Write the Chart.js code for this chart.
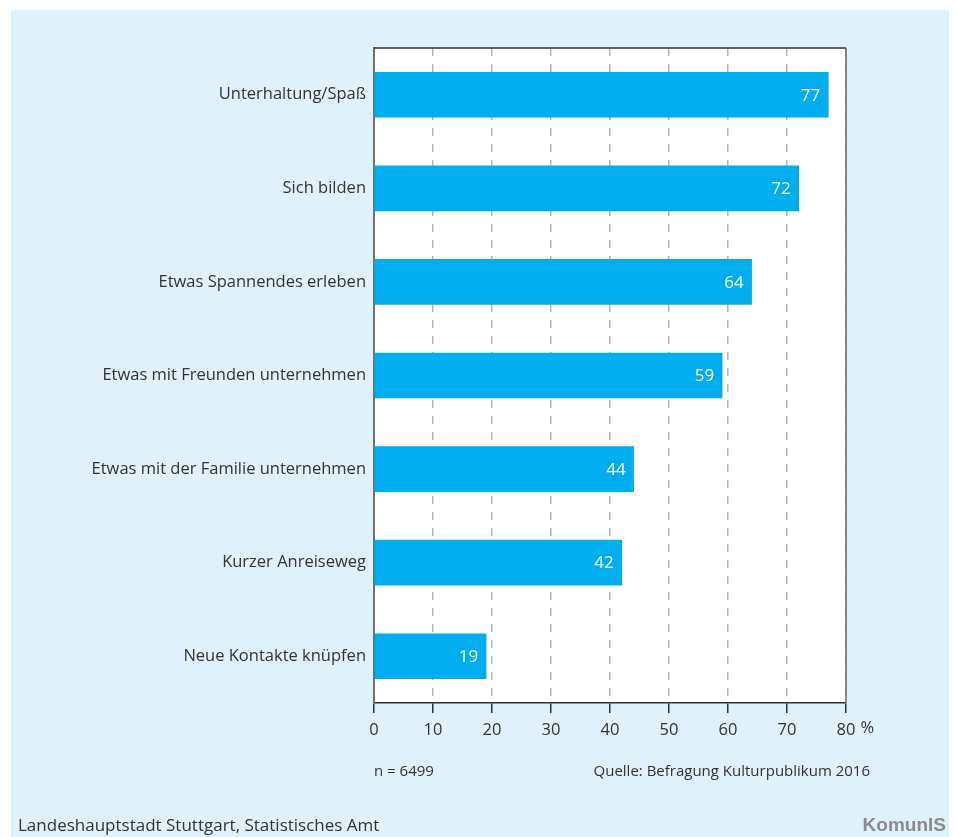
<!DOCTYPE html>
<html>
<head>
<meta charset="utf-8">
<script src="https://cdn.jsdelivr.net/npm/chart.js@4/dist/chart.umd.min.js"></script>
<style>
  html, body { margin: 0; padding: 0; background: #ffffff; }
  #wrap { width: 956px; height: 837px; position: relative; }
</style>
</head>
<body>
<div id="wrap"><canvas id="c" width="956" height="837"></canvas></div>
<script>
const categories = [
  "Unterhaltung/Spaß",
  "Sich bilden",
  "Etwas Spannendes erleben",
  "Etwas mit Freunden unternehmen",
  "Etwas mit der Familie unternehmen",
  "Kurzer Anreiseweg",
  "Neue Kontakte knüpfen"
];
const values = [77, 72, 64, 59, 44, 42, 19];
const xTicks = [0, 10, 20, 30, 40, 50, 60, 70, 80];
const unitLabel = "%";
const noteLeft = "n = 6499";
const noteRight = "Quelle: Befragung Kulturpublikum 2016";
const footerLeft = "Landeshauptstadt Stuttgart, Statistisches Amt";
const logoText = "KomunIS";

const FONT = "'Open Sans', 'Noto Sans', sans-serif";
const TEXT = "#333333";

const decor = {
  id: 'decor',
  beforeDraw(chart) {
    const ctx = chart.ctx;
    const a = chart.chartArea;
    ctx.save();
    ctx.fillStyle = '#dff1fb';
    ctx.fillRect(11, 10, 938, 827);
    ctx.fillStyle = '#ffffff';
    ctx.fillRect(a.left, a.top, a.right - a.left, a.bottom - a.top);
    ctx.restore();
  },
  afterDatasetsDraw(chart) {
    const ctx = chart.ctx;
    const a = chart.chartArea;
    const meta = chart.getDatasetMeta(0);
    ctx.save();
    ctx.fillStyle = '#ffffff';
    ctx.font = "17px " + FONT;
    ctx.textAlign = 'right';
    ctx.textBaseline = 'middle';
    meta.data.forEach((bar, i) => {
      ctx.fillText(String(chart.data.datasets[0].data[i]), bar.x - 8, bar.y + 1);
    });
    ctx.strokeStyle = '#333333';
    ctx.lineWidth = 1.5;
    ctx.beginPath();
    ctx.moveTo(a.left, a.top);
    ctx.lineTo(a.right, a.top);
    ctx.stroke();
    ctx.strokeStyle = '#6a6a6a';
    ctx.lineWidth = 1.5;
    ctx.beginPath();
    ctx.moveTo(a.right, a.top);
    ctx.lineTo(a.right, a.bottom);
    ctx.stroke();
    ctx.restore();
  },
  afterDraw(chart) {
    const ctx = chart.ctx;
    const x = chart.scales.x;
    ctx.save();
    ctx.fillStyle = TEXT;
    ctx.font = "16.5px " + FONT;
    ctx.textBaseline = 'middle';
    ctx.textAlign = 'left';
    const last = xTicks[xTicks.length - 1];
    const w = ctx.measureText(String(last)).width;
    ctx.fillText(unitLabel, x.getPixelForValue(last) + w / 2 + 5, 728);

    ctx.font = "15px " + FONT;
    ctx.textAlign = 'left';
    ctx.fillText(noteLeft, x.getPixelForValue(0), 772);
    ctx.textAlign = 'right';
    ctx.fillText(noteRight, 870, 772);

    ctx.font = "17px 'Liberation Sans Narrow', 'Open Sans', sans-serif";
    ctx.textAlign = 'left';
    ctx.fillStyle = '#333333';
    ctx.fillText(footerLeft, 18, 826);

    ctx.font = "bold 19px 'Liberation Sans Narrow', sans-serif";
    ctx.fillStyle = '#8c8c8c';
    ctx.textAlign = 'right';
    ctx.fillText(logoText, 946, 826);
    ctx.restore();
  }
};

new Chart(document.getElementById('c'), {
  type: 'bar',
  data: {
    labels: categories,
    datasets: [{
      data: values,
      backgroundColor: '#00aeef',
      borderWidth: 0,
      barThickness: 45
    }]
  },
  options: {
    indexAxis: 'y',
    responsive: false,
    animation: false,
    devicePixelRatio: 1,
    layout: { padding: { left: 0, right: 110, top: 48, bottom: 94 } },
    plugins: { legend: { display: false }, tooltip: { enabled: false } },
    scales: {
      x: {
        min: 0, max: 80,
        afterBuildTicks(scale) { scale.ticks = xTicks.map(v => ({ value: v })); },
        afterFit(scale) { scale.height = 40; },
        grid: {
          display: true,
          drawOnChartArea: true,
          drawTicks: true,
          tickLength: 10,
          color: '#b4b4b4',
          lineWidth: 1.5,
          tickColor: '#333333',
          tickWidth: 1.5,
          tickBorderDash: []
        },
        border: { display: true, color: '#333333', width: 1.5, dash: [8, 8] },
        ticks: {
          color: TEXT,
          font: { family: FONT, size: 16.5 },
          padding: 7,
          maxRotation: 0,
          autoSkip: false
        }
      },
      y: {
        afterFit(scale) { scale.width = 374; },
        grid: { display: false, drawTicks: false },
        border: { display: true, color: '#6f6f6f', width: 2 },
        ticks: {
          color: TEXT,
          font: { family: FONT, size: 16.5 },
          padding: 8,
          autoSkip: false
        }
      }
    }
  },
  plugins: [decor]
});
</script>
</body>
</html>
